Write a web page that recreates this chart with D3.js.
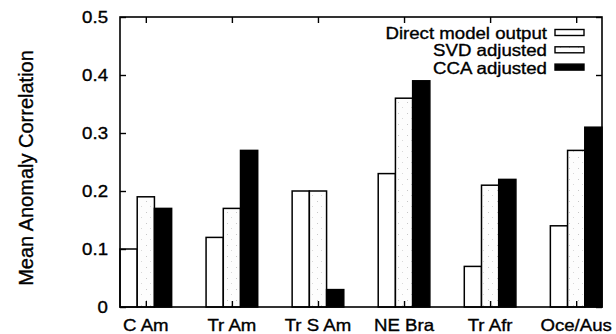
<!DOCTYPE html>
<html>
<head>
<meta charset="utf-8">
<script src="https://cdn.jsdelivr.net/npm/d3@7.9.0/dist/d3.min.js"></script>
<style>
  body { margin: 0; background: #fff; }
  svg { display: block; font-family: "Liberation Sans", Arial, sans-serif; }
  svg text { stroke: #000; stroke-width: 0.35px; }
</style>
</head>
<body>
<svg width="616" height="334"></svg>
<script>
// chart data
const regions = ['C Am', 'Tr Am', 'Tr S Am', 'NE Bra', 'Tr Afr', 'Oce/Aus'];
const seriesNames = ['Direct model output', 'SVD adjusted', 'CCA adjusted'];
const direct = [0.10, 0.12, 0.20, 0.23, 0.07, 0.14];
const svdAdj = [0.19, 0.17, 0.20, 0.36, 0.21, 0.27];
const ccaAdj = [0.17, 0.27, 0.03, 0.39, 0.22, 0.31];
const yTicks = [0, 0.1, 0.2, 0.3, 0.4, 0.5];

const series = [direct, svdAdj, ccaAdj];

const svg = d3.select('svg');
const plotL = 120, plotR = 602, plotT = 17, plotB = 307;
const sx = 1.13; // text in the original is a bit wide

// stretched text helper
function label(g, x, y, txt, anchor, size) {
  return g.append('text')
    .attr('transform', `translate(${x},${y}) scale(${sx},1)`)
    .attr('text-anchor', anchor)
    .attr('font-size', size)
    .attr('fill', '#000')
    .text(txt);
}

// pattern for the stippled SVD bars
const defs = svg.append('defs');
const pat = defs.append('pattern')
  .attr('id', 'stip')
  .attr('width', 9).attr('height', 11)
  .attr('patternUnits', 'userSpaceOnUse');
pat.append('rect').attr('width', 9).attr('height', 11).attr('fill', '#fdfdfd');
pat.append('rect').attr('x', 2).attr('y', 3).attr('width', 1).attr('height', 1).attr('fill', '#c8c8c8');
pat.append('rect').attr('x', 6).attr('y', 8).attr('width', 1).attr('height', 1).attr('fill', '#d8d8d8');

const fills = ['#fff', 'url(#stip)', '#000'];

const x = d3.scaleLinear().domain([-0.3, regions.length - 0.7]).range([plotL, plotR]);
const y = d3.scaleLinear().domain([0, 0.5]).range([plotB, plotT]);
const bw = 0.2;

// bars
series.forEach((vals, s) => {
  svg.append('g').selectAll('rect')
    .data(vals)
    .join('rect')
    .attr('x', (d, i) => x(i - 0.3 + s * bw))
    .attr('y', d => y(d))
    .attr('width', x(bw) - x(0))
    .attr('height', d => y(0) - y(d))
    .attr('fill', fills[s])
    .attr('stroke', '#000')
    .attr('stroke-width', 1.5);
});

// inward ticks on all four sides
const yAxisL = d3.axisLeft(y).tickValues(yTicks).tickSize(-6).tickFormat('');
svg.append('g').attr('transform', `translate(${plotL},0)`).call(yAxisL)
  .call(g => g.select('.domain').remove())
  .call(g => g.selectAll('line').attr('stroke-width', 1.4));
const yAxisR = d3.axisRight(y).tickValues(yTicks).tickSize(-6).tickFormat('');
svg.append('g').attr('transform', `translate(${plotR},0)`).call(yAxisR)
  .call(g => g.select('.domain').remove())
  .call(g => g.selectAll('line').attr('stroke-width', 1.4));
const xAxisB = d3.axisBottom(x).tickValues(d3.range(regions.length)).tickSize(-6).tickFormat('');
svg.append('g').attr('transform', `translate(0,${plotB})`).call(xAxisB)
  .call(g => g.select('.domain').remove())
  .call(g => g.selectAll('line').attr('stroke-width', 1.4));
const xAxisT = d3.axisTop(x).tickValues(d3.range(regions.length)).tickSize(-6).tickFormat('');
svg.append('g').attr('transform', `translate(0,${plotT})`).call(xAxisT)
  .call(g => g.select('.domain').remove())
  .call(g => g.selectAll('line').attr('stroke-width', 1.4));

// tick labels
const lab = svg.append('g');
yTicks.forEach(t => {
  label(lab, 108, y(t) + 6, t === 0 ? '0' : d3.format('.1f')(t), 'end', 16.5);
});
regions.forEach((r, i) => {
  label(lab, x(i), 331, r, 'middle', 16.5);
});

// frame
svg.append('rect')
  .attr('x', plotL).attr('y', plotT)
  .attr('width', plotR - plotL).attr('height', plotB - plotT)
  .attr('fill', 'none').attr('stroke', '#000').attr('stroke-width', 1.6);

// y title
svg.append('text')
  .attr('transform', `translate(33,168) rotate(-90)`)
  .attr('text-anchor', 'middle')
  .attr('font-size', 20)
  .text('Mean Anomaly Correlation');

// legend
const legend = svg.append('g');
seriesNames.forEach((name, s) => {
  const ly = 39 + s * 17.3;
  label(legend, 547, ly, name, 'end', 16.5);
  legend.append('rect')
    .attr('x', 555).attr('y', ly - 9.5)
    .attr('width', 29).attr('height', 6)
    .attr('fill', fills[s])
    .attr('stroke', '#000')
    .attr('stroke-width', 1.4);
});
</script>
</body>
</html>
